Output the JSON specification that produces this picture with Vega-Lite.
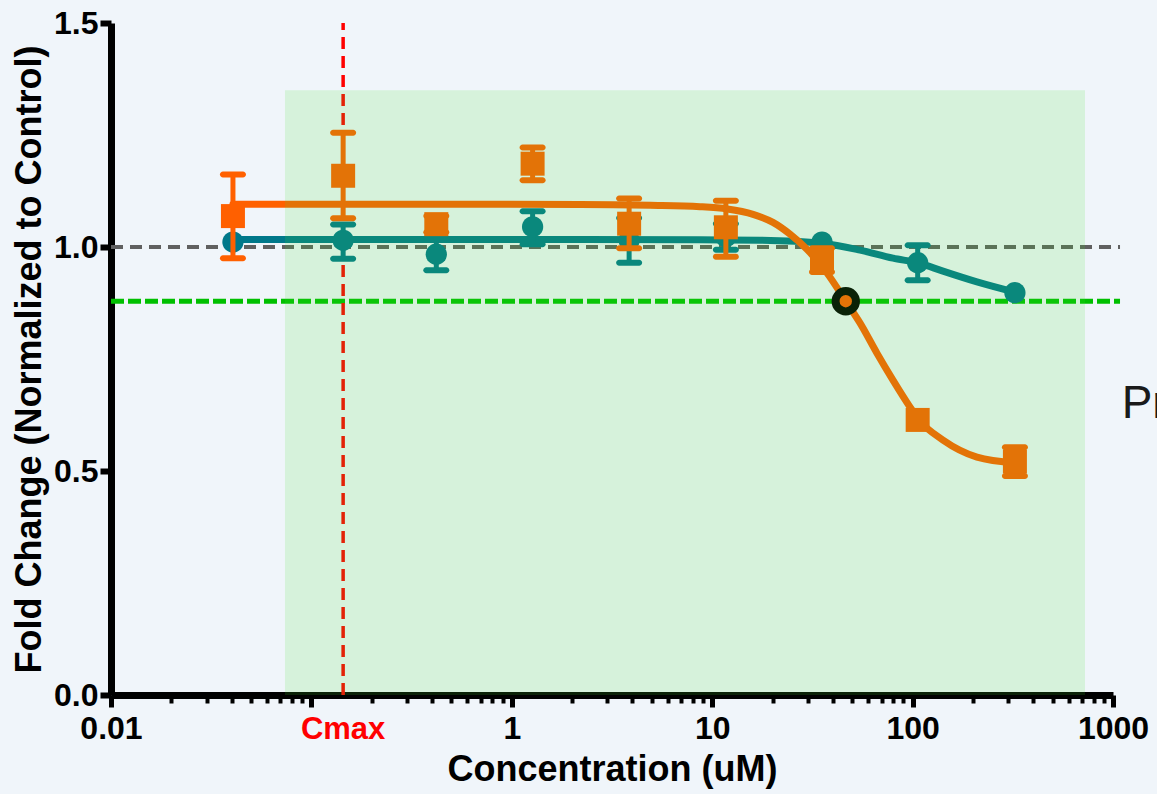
{
  "$schema": "https://vega.github.io/schema/vega-lite/v6.json",
  "width": 1002,
  "height": 672,
  "autosize": {"type": "none"},
  "padding": {"left": 111, "top": 23, "right": 44, "bottom": 99},
  "background": "#f0f5fa",
  "config": {"view": {"stroke": null}, "font": "Liberation Sans"},
  "datasets": {
    "points": [
      {"series": "A", "conc": 0.0406, "value": 1.011, "lo": null, "hi": null},
      {"series": "A", "conc": 0.144, "value": 1.015, "lo": 0.974, "hi": 1.05},
      {"series": "A", "conc": 0.42, "value": 0.984, "lo": 0.948, "hi": 1.02},
      {"series": "A", "conc": 1.27, "value": 1.045, "lo": 1.006, "hi": 1.08},
      {"series": "A", "conc": 3.85, "value": 1.015, "lo": 0.965, "hi": 1.065},
      {"series": "A", "conc": 11.7, "value": 1.023, "lo": 0.994, "hi": 1.052},
      {"series": "A", "conc": 35.3, "value": 1.011, "lo": null, "hi": null},
      {"series": "A", "conc": 106, "value": 0.965, "lo": 0.926, "hi": 1.004},
      {"series": "A", "conc": 324, "value": 0.898, "lo": null, "hi": null},
      {"series": "B", "conc": 0.0406, "value": 1.069, "lo": 0.975, "hi": 1.162},
      {"series": "B", "conc": 0.144, "value": 1.159, "lo": 1.064, "hi": 1.255},
      {"series": "B", "conc": 0.42, "value": 1.051, "lo": 1.033, "hi": 1.069},
      {"series": "B", "conc": 1.27, "value": 1.186, "lo": 1.149, "hi": 1.222},
      {"series": "B", "conc": 3.85, "value": 1.052, "lo": 0.997, "hi": 1.108},
      {"series": "B", "conc": 11.7, "value": 1.044, "lo": 0.978, "hi": 1.103},
      {"series": "B", "conc": 35.3, "value": 0.969, "lo": 0.944, "hi": 0.997},
      {"series": "B", "conc": 106, "value": 0.614, "lo": null, "hi": null},
      {"series": "B", "conc": 324, "value": 0.521, "lo": 0.489, "hi": 0.553}
    ],
    "fits": [
      {"series": "A", "conc": 0.0406, "value": 1.017},
      {"series": "A", "conc": 0.2767, "value": 1.017},
      {"series": "A", "conc": 2.19, "value": 1.017},
      {"series": "A", "conc": 8.69, "value": 1.016},
      {"series": "A", "conc": 17.3, "value": 1.015},
      {"series": "A", "conc": 35.7, "value": 1.008},
      {"series": "A", "conc": 54.7, "value": 0.993},
      {"series": "A", "conc": 79.8, "value": 0.975},
      {"series": "A", "conc": 107.6, "value": 0.964},
      {"series": "A", "conc": 141.8, "value": 0.946},
      {"series": "A", "conc": 209.5, "value": 0.922},
      {"series": "A", "conc": 324.3, "value": 0.899},
      {"series": "B", "conc": 0.0406, "value": 1.0955},
      {"series": "B", "conc": 0.2767, "value": 1.0955},
      {"series": "B", "conc": 2.19, "value": 1.095},
      {"series": "B", "conc": 4.9, "value": 1.093},
      {"series": "B", "conc": 8.69, "value": 1.09},
      {"series": "B", "conc": 11.9, "value": 1.085},
      {"series": "B", "conc": 15.99, "value": 1.073},
      {"series": "B", "conc": 20.1, "value": 1.055},
      {"series": "B", "conc": 24.4, "value": 1.029},
      {"series": "B", "conc": 29.7, "value": 0.995},
      {"series": "B", "conc": 37.4, "value": 0.942},
      {"series": "B", "conc": 46.4, "value": 0.879},
      {"series": "B", "conc": 54.7, "value": 0.83},
      {"series": "B", "conc": 66.4, "value": 0.763},
      {"series": "B", "conc": 79.8, "value": 0.703},
      {"series": "B", "conc": 97.0, "value": 0.643},
      {"series": "B", "conc": 107.6, "value": 0.614},
      {"series": "B", "conc": 141.8, "value": 0.569},
      {"series": "B", "conc": 209.5, "value": 0.531},
      {"series": "B", "conc": 324.3, "value": 0.518}
    ]
  },
  "layer": [
    {
      "data": {"values": [{"conc": 0.01, "conc2": 1084, "value": 1}]},
      "mark": {"type": "rule", "color": "#606060", "strokeWidth": 4, "strokeDash": [12, 7], "clip": false},
      "encoding": {
        "x": {
          "field": "conc",
          "type": "quantitative",
          "scale": {"type": "log", "domain": [0.01, 1000], "nice": false},
          "axis": {
            "title": "Concentration (uM)",
            "values": [0.01, 0.02, 0.03, 0.04, 0.05, 0.06, 0.07, 0.08, 0.09, 0.1, 0.2, 0.3, 0.4, 0.5, 0.6, 0.7, 0.8, 0.9, 1, 2, 3, 4, 5, 6, 7, 8, 9, 10, 20, 30, 40, 50, 60, 70, 80, 90, 100, 200, 300, 400, 500, 600, 700, 800, 900, 1000],
            "labelExpr": "datum.value == 0.1 ? '' : (abs(log(datum.value)/LN10 - round(log(datum.value)/LN10)) < 0.001 ? '' + datum.value : '')",
            "labelFont": "Liberation Sans",
            "labelFontWeight": "bold",
            "labelFontSize": 32,
            "labelColor": "#000000",
            "labelOverlap": false,
            "labelFlush": false,
            "labelPadding": 6,
            "domainColor": "#000000",
            "domainWidth": 7,
            "tickColor": "#000000",
            "tickWidth": {"condition": {"test": "abs(log(datum.value)/LN10 - round(log(datum.value)/LN10)) < 0.001", "value": 5}, "value": 4},
            "tickSize": {"condition": {"test": "abs(log(datum.value)/LN10 - round(log(datum.value)/LN10)) < 0.001", "value": 12}, "value": 8},
            "grid": false,
            "titleFont": "Liberation Sans",
            "titleFontSize": 36,
            "titleFontWeight": "bold",
            "titleColor": "#000000",
            "titlePadding": 8,
            "zindex": 0
          }
        },
        "x2": {"field": "conc2"},
        "y": {
          "field": "value",
          "type": "quantitative",
          "scale": {"domain": [0, 1.5], "nice": false},
          "axis": {
            "title": "Fold Change (Normalized to  Control)",
            "values": [0, 0.5, 1, 1.5],
            "format": ".1f",
            "labelFont": "Liberation Sans",
            "labelFontWeight": "bold",
            "labelFontSize": 32,
            "labelColor": "#000000",
            "labelPadding": 2,
            "domainColor": "#000000",
            "domainWidth": 7,
            "tickColor": "#000000",
            "tickWidth": 6,
            "tickSize": 11,
            "grid": false,
            "titleFont": "Liberation Sans",
            "titleFontSize": 36,
            "titleFontWeight": "bold",
            "titleColor": "#000000",
            "titlePadding": 5,
            "zindex": 0
          }
        }
      }
    },
    {
      "data": {"values": [{"conc": 0.01, "conc2": 1084, "value": 0.879}]},
      "mark": {"type": "rule", "color": "#00c000", "strokeWidth": 5, "strokeDash": [13, 4], "clip": false},
      "encoding": {"x": {"field": "conc", "type": "quantitative"}, "x2": {"field": "conc2"}, "y": {"field": "value", "type": "quantitative"}}
    },
    {
      "data": {"values": [{"conc": 0.144, "value": 0, "value2": 1.5}]},
      "mark": {"type": "rule", "color": "#ff0000", "strokeWidth": 3.5, "strokeDash": [12, 7]},
      "encoding": {"x": {"field": "conc", "type": "quantitative"}, "y": {"field": "value", "type": "quantitative"}, "y2": {"field": "value2"}}
    },
    {
      "data": {"name": "fits"},
      "transform": [{"filter": "datum.series == 'A'"}],
      "mark": {"type": "line", "color": "#00788a", "strokeWidth": 7, "interpolate": "monotone", "strokeCap": "round"},
      "encoding": {"x": {"field": "conc", "type": "quantitative"}, "y": {"field": "value", "type": "quantitative"}}
    },
    {
      "data": {"name": "points"},
      "transform": [{"filter": "datum.series == 'A'"}],
      "mark": {"type": "rule", "color": "#00788a", "strokeWidth": 5},
      "encoding": {"x": {"field": "conc", "type": "quantitative"}, "y": {"field": "lo", "type": "quantitative"}, "y2": {"field": "hi"}}
    },
    {
      "data": {"name": "points"},
      "transform": [{"filter": "datum.series == 'A'"}],
      "mark": {"type": "tick", "orient": "horizontal", "color": "#00788a", "size": 26, "thickness": 6, "cornerRadius": 3, "opacity": 1},
      "encoding": {"x": {"field": "conc", "type": "quantitative"}, "y": {"field": "lo", "type": "quantitative"}}
    },
    {
      "data": {"name": "points"},
      "transform": [{"filter": "datum.series == 'A'"}],
      "mark": {"type": "tick", "orient": "horizontal", "color": "#00788a", "size": 26, "thickness": 6, "cornerRadius": 3, "opacity": 1},
      "encoding": {"x": {"field": "conc", "type": "quantitative"}, "y": {"field": "hi", "type": "quantitative"}}
    },
    {
      "data": {"name": "points"},
      "transform": [{"filter": "datum.series == 'A'"}],
      "mark": {"type": "circle", "color": "#00788a", "size": 452, "opacity": 1},
      "encoding": {"x": {"field": "conc", "type": "quantitative"}, "y": {"field": "value", "type": "quantitative"}}
    },
    {
      "data": {"name": "fits"},
      "transform": [{"filter": "datum.series == 'B'"}],
      "mark": {"type": "line", "color": "#ff6000", "strokeWidth": 7, "interpolate": "monotone", "strokeCap": "round"},
      "encoding": {"x": {"field": "conc", "type": "quantitative"}, "y": {"field": "value", "type": "quantitative"}}
    },
    {
      "data": {"name": "points"},
      "transform": [{"filter": "datum.series == 'B'"}],
      "mark": {"type": "rule", "color": "#ff6000", "strokeWidth": 5},
      "encoding": {"x": {"field": "conc", "type": "quantitative"}, "y": {"field": "lo", "type": "quantitative"}, "y2": {"field": "hi"}}
    },
    {
      "data": {"name": "points"},
      "transform": [{"filter": "datum.series == 'B'"}],
      "mark": {"type": "tick", "orient": "horizontal", "color": "#ff6000", "size": 26, "thickness": 6, "cornerRadius": 3, "opacity": 1},
      "encoding": {"x": {"field": "conc", "type": "quantitative"}, "y": {"field": "lo", "type": "quantitative"}}
    },
    {
      "data": {"name": "points"},
      "transform": [{"filter": "datum.series == 'B'"}],
      "mark": {"type": "tick", "orient": "horizontal", "color": "#ff6000", "size": 26, "thickness": 6, "cornerRadius": 3, "opacity": 1},
      "encoding": {"x": {"field": "conc", "type": "quantitative"}, "y": {"field": "hi", "type": "quantitative"}}
    },
    {
      "data": {"name": "points"},
      "transform": [{"filter": "datum.series == 'B'"}],
      "mark": {"type": "square", "color": "#ff6000", "size": 576, "opacity": 1},
      "encoding": {"x": {"field": "conc", "type": "quantitative"}, "y": {"field": "value", "type": "quantitative"}}
    },
    {
      "data": {"values": [{"conc": 46.4, "value": 0.879}]},
      "mark": {"type": "circle", "fill": "#ff6000", "stroke": "#000000", "strokeWidth": 8, "size": 415, "opacity": 1, "fillOpacity": 1},
      "encoding": {"x": {"field": "conc", "type": "quantitative"}, "y": {"field": "value", "type": "quantitative"}}
    },
    {
      "data": {"values": [{"conc": 0.0738, "conc2": 725, "value": 0, "value2": 1.35}]},
      "mark": {"type": "rect", "color": "#46e632", "opacity": 0.15},
      "encoding": {
        "x": {"field": "conc", "type": "quantitative"},
        "x2": {"field": "conc2"},
        "y": {"field": "value", "type": "quantitative"},
        "y2": {"field": "value2"}
      }
    },
    {
      "data": {"values": [{"conc": 0.144, "value": 0, "label": "Cmax"}]},
      "mark": {"type": "text", "color": "#ff0000", "font": "Liberation Sans", "fontWeight": "bold", "fontSize": 31, "align": "center", "baseline": "middle", "dy": 35},
      "encoding": {"x": {"field": "conc", "type": "quantitative"}, "y": {"field": "value", "type": "quantitative"}, "text": {"field": "label"}}
    },
    {
      "data": {"values": [{"conc": 1105, "value": 0.618, "label": "Pr"}]},
      "mark": {"type": "text", "color": "#1a1a1a", "font": "Liberation Sans", "fontSize": 46, "align": "left", "baseline": "alphabetic"},
      "encoding": {"x": {"field": "conc", "type": "quantitative"}, "y": {"field": "value", "type": "quantitative"}, "text": {"field": "label"}}
    }
  ]
}
